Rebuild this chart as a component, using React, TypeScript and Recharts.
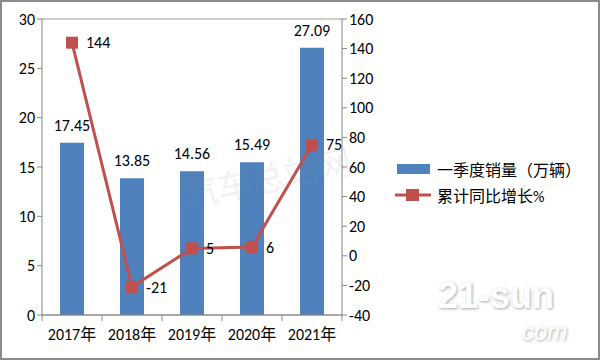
import {
  Bar,
  CartesianGrid,
  ComposedChart,
  LabelList,
  Line,
  XAxis,
  YAxis,
} from 'recharts'

const years = ['2017年', '2018年', '2019年', '2020年', '2021年']
const sales = [17.45, 13.85, 14.56, 15.49, 27.09]
const growth = [144, -21, 5, 6, 75]
const leftTicks = [0, 5, 10, 15, 20, 25, 30]
const rightTicks = [-40, -20, 0, 20, 40, 60, 80, 100, 120, 140, 160]

const SALES_NAME = '一季度销量（万辆）'
const GROWTH_NAME = '累计同比增长%'

const BLUE = '#4F81BD'
const RED = '#C0504D'
const AXIS = '#868686'
const FONT = "Carlito, 'Liberation Sans', 'Noto Sans CJK SC', sans-serif"
const FS = 16

const data = years.map((year, i) => ({
  year,
  sales: sales[i],
  growth: growth[i],
}))

function YearTick(props: any) {
  const { x, y, payload, index } = props
  const half = 30
  return (
    <g>
      <line x1={x - half} y1={y - 8} x2={x - half} y2={y - 2} stroke={AXIS} />
      {index === years.length - 1 && (
        <line x1={x + half} y1={y - 8} x2={x + half} y2={y - 2} stroke={AXIS} />
      )}
      <text x={x} y={y + 17} textAnchor="middle" fill="#000" fontSize={FS} fontFamily={FONT}>
        {payload.value}
      </text>
    </g>
  )
}

function Square(props: any) {
  const { cx, cy } = props
  if (cx == null || cy == null) return null
  return <rect x={cx - 6} y={cy - 6} width={12} height={12} fill={RED} />
}

function LegendBox() {
  return (
    <div
      style={{
        position: 'absolute',
        left: 393,
        top: 154,
        fontFamily: FONT,
        fontSize: FS,
        color: '#000',
      }}
    >
      <div style={{ display: 'flex', alignItems: 'center', height: 26 }}>
        <svg width={42} height={14}>
          <rect x={2} y={2} width={33} height={10} fill={BLUE} />
        </svg>
        <span>{SALES_NAME}</span>
      </div>
      <div style={{ display: 'flex', alignItems: 'center', height: 26 }}>
        <svg width={42} height={14}>
          <line x1={0} y1={7} x2={36} y2={7} stroke={RED} strokeWidth={3} />
          <rect x={11} y={1} width={13} height={12} fill={RED} />
        </svg>
        <span>{GROWTH_NAME}</span>
      </div>
    </div>
  )
}

export default function App() {
  return (
    <div
      style={{
        position: 'absolute',
        left: 0,
        top: 0,
        width: 600,
        height: 360,
        background: '#fff',
        boxSizing: 'border-box',
        border: '2px solid #8c8c8c',
        overflow: 'hidden',
      }}
    >
      <div style={{ position: 'absolute', left: -2, top: -2 }}>
        <ComposedChart
          width={600}
          height={360}
          data={data}
          margin={{ top: 19, right: 218, left: 0, bottom: 0 }}
          barCategoryGap={18}
        >
          <CartesianGrid vertical={false} stroke={AXIS} strokeOpacity={0.8} />
          <XAxis
            dataKey="year"
            tickLine={false}
            axisLine={{ stroke: AXIS }}
            tick={<YearTick />}
            interval={0}
            height={45}
          />
          <YAxis
            yAxisId="left"
            domain={[0, 30]}
            ticks={leftTicks}
            interval={0}
            width={42}
            axisLine={{ stroke: AXIS }}
            tickLine={{ stroke: AXIS }}
            tickSize={5}
            tick={{ fill: '#000', fontSize: FS, fontFamily: FONT }}
          />
          <YAxis
            yAxisId="right"
            orientation="right"
            domain={[-40, 160]}
            ticks={rightTicks}
            interval={0}
            width={40}
            axisLine={{ stroke: AXIS }}
            tickLine={{ stroke: AXIS }}
            tickSize={5}
            tick={{ fill: '#000', fontSize: FS, fontFamily: FONT }}
          />
          <Bar
            yAxisId="left"
            dataKey="sales"
            name={SALES_NAME}
            fill={BLUE}
            barSize={24}
            isAnimationActive={false}
          >
            <LabelList
              dataKey="sales"
              position="top"
              offset={12}
              fill="#000"
              fontSize={FS}
              fontFamily={FONT}
              formatter={(v: any) => Number(v).toFixed(2)}
            />
          </Bar>
          <Line
            yAxisId="right"
            dataKey="growth"
            name={GROWTH_NAME}
            stroke={RED}
            strokeWidth={3}
            dot={<Square />}
            activeDot={false}
            isAnimationActive={false}
          >
            <LabelList
              dataKey="growth"
              position="right"
              offset={14}
              fill="#000"
              fontSize={FS}
              fontFamily={FONT}
            />
          </Line>
        </ComposedChart>
      </div>
      <LegendBox />
      <div
        style={{
          position: 'absolute',
          left: 180,
          top: 150,
          fontSize: 34,
          fontFamily: "'Noto Sans CJK SC', sans-serif",
          color: 'rgba(150,150,150,0.14)',
          transform: 'rotate(-12deg)',
          pointerEvents: 'none',
        }}
      >
        汽车总站网
      </div>
      <div
        style={{
          position: 'absolute',
          left: 436,
          top: 276,
          fontSize: 36,
          fontWeight: 'bold',
          fontFamily: "'Liberation Sans', sans-serif",
          color: '#fff',
          textShadow: '1px 1px 3px rgba(0,0,0,0.35)',
          lineHeight: 1,
          pointerEvents: 'none',
        }}
      >
        21-sun
      </div>
      <div
        style={{
          position: 'absolute',
          left: 520,
          top: 318,
          fontSize: 24,
          fontStyle: 'italic',
          fontFamily: "'Liberation Sans', sans-serif",
          color: '#fff',
          textShadow: '1px 1px 3px rgba(0,0,0,0.35)',
          lineHeight: 1,
          pointerEvents: 'none',
        }}
      >
        com
      </div>
    </div>
  )
}
